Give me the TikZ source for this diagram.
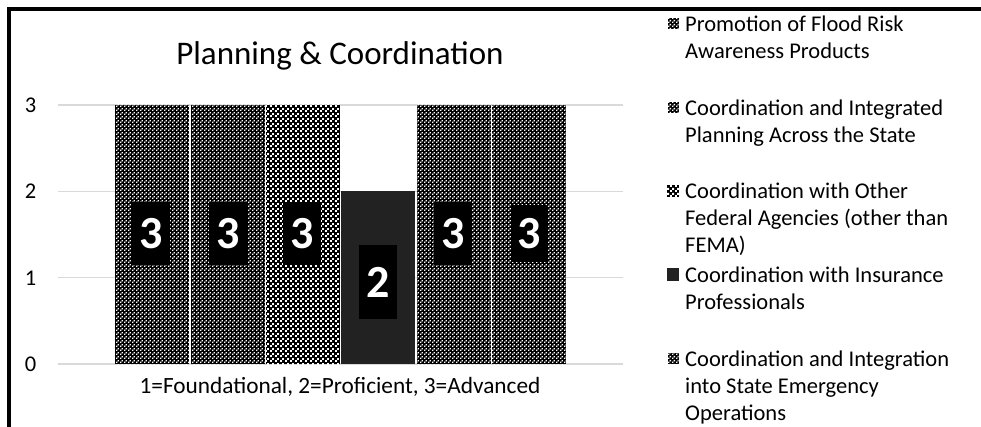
\documentclass[tikz,border=0pt]{standalone}
\usepackage{fontspec}
\setmainfont{Carlito}
\usetikzlibrary{patterns}

\definecolor{gridgray}{RGB}{217,217,217}
\definecolor{darkbar}{RGB}{34,34,34}

% white specks laid over the black bars
\pgfdeclarepatternformonly{smallcheck}{\pgfpointorigin}{\pgfpoint{4pt}{4pt}}{\pgfpoint{4pt}{4pt}}{
    \pgfpathrectangle{\pgfpointorigin}{\pgfpoint{1.6pt}{1.6pt}}
    \pgfpathrectangle{\pgfpoint{2pt}{2pt}}{\pgfpoint{1.6pt}{1.6pt}}
    \pgfusepath{fill}}
\pgfdeclarepatternformonly{widecheck}{\pgfpointorigin}{\pgfpoint{5pt}{5pt}}{\pgfpoint{5pt}{5pt}}{
    \pgfpathrectangle{\pgfpointorigin}{\pgfpoint{2.2pt}{2.2pt}}
    \pgfpathrectangle{\pgfpoint{2.5pt}{2.5pt}}{\pgfpoint{2.2pt}{2.2pt}}
    \pgfusepath{fill}}

\begin{document}
\begin{tikzpicture}[x=1pt,y=-1pt,
        gridline/.style={draw=gridgray,line width=1.3},
        checkbar/.style={fill=black,postaction={pattern=smallcheck,pattern color=white}},
        widebar/.style={fill=black,postaction={pattern=widecheck,pattern color=white}},
        vallabel/.style={fill=black,text=white,inner sep=0,minimum width=38,minimum height=63,
            font=\fontsize{46}{46}\selectfont\bfseries},
        ticklabel/.style={anchor=base,inner sep=0,font=\fontsize{22.5}{27}\selectfont},
        legtext/.style={anchor=base west,align=left,inner sep=0,font=\fontsize{22.5}{27}\selectfont},
        legkey/.style={minimum size=11,inner sep=0}]
    \useasboundingbox (0,0) rectangle (981,427);

    % frame, only top and left edges fall inside
    \draw[line width=4] (8.5,440) |- (1000,9.5);

    \node[anchor=base,inner sep=0,font=\fontsize{33}{40}\selectfont] (title) at (340,65) {Planning \& Coordination};

    % gridlines
    \draw[gridline] (58,105) -- (623,105);
    \draw[gridline] (58,191.3) -- (623,191.3);
    \draw[gridline] (58,277.7) -- (623,277.7);
    \draw[gridline] (58,364) -- (623,364);

    \node[ticklabel] (tick3) at (30.5,112.5) {3};
    \node[ticklabel] (tick2) at (30.5,198.8) {2};
    \node[ticklabel] (tick1) at (30.5,285.2) {1};
    \node[ticklabel] (tick0) at (30.5,371.5) {0};

    % bars
    \fill[checkbar] (115,105) rectangle (189,364);
    \fill[checkbar] (190.5,105) rectangle (264.5,364);
    \fill[widebar] (266,105) rectangle (340,364);
    \fill[darkbar] (341,191.3) rectangle (415,364);
    \fill[checkbar] (416.5,105) rectangle (490.5,364);
    \fill[checkbar] (492,105) rectangle (566,364);

    \node[vallabel] (val1) at (151,233.5) {3};
    \node[vallabel] (val2) at (228,233.5) {3};
    \node[vallabel] (val3) at (302,233.5) {3};
    \node[vallabel,minimum height=73] (val4) at (378,282) {2};
    \node[vallabel] (val5) at (453,233.5) {3};
    \node[vallabel,minimum width=36,minimum height=57] (val6) at (529,233.5) {3};

    \node[anchor=base,inner sep=0,font=\fontsize{23.3}{27}\selectfont] (axistitle) at (340,393) {1=Foundational, 2=Proficient, 3=Advanced};

    % legend, each text is set on the baseline of its last line
    \node[legkey,checkbar] (key1) at (673,24) {};
    \node[legtext] (leg1) at (685,59) {Promotion of Flood Risk\\Awareness Products};
    \node[legkey,checkbar] (key2) at (673,107.5) {};
    \node[legtext] (leg2) at (685,142.5) {Coordination and Integrated\\Planning Across the State};
    \node[legkey,widebar,minimum size=12] (key3) at (673,191) {};
    \node[legtext] (leg3) at (685,253) {Coordination with Other\\Federal Agencies (other than\\FEMA)};
    \node[legkey,fill=darkbar,minimum size=12] (key4) at (673,274.5) {};
    \node[legtext] (leg4) at (685,309.5) {Coordination with Insurance\\Professionals};
    \node[legkey,checkbar] (key5) at (673,358) {};
    \node[legtext] (leg5) at (685,420) {Coordination and Integration\\into State Emergency\\Operations};
\end{tikzpicture}
\end{document}
